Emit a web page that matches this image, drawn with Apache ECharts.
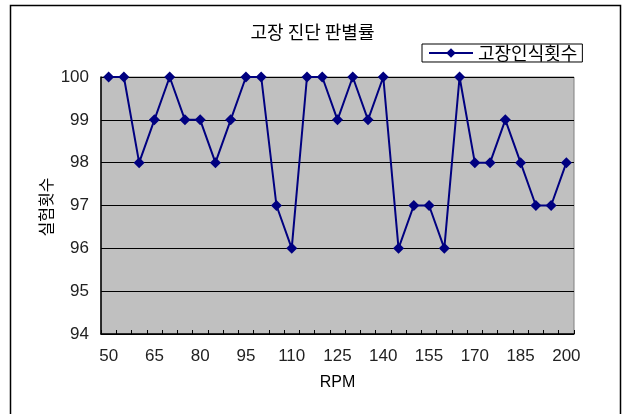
<!DOCTYPE html>
<html>
<head>
<meta charset="utf-8">
<script src="https://cdn.jsdelivr.net/npm/echarts@6/dist/echarts.min.js"></script>
<style>
  html, body { margin: 0; padding: 0; background: #fff; }
  #chart { width: 625px; height: 414px; }
</style>
</head>
<body>
<div id="chart"></div>
<script>
// RPM categories (every 5 rpm from 50 to 200)
const rpm = [50, 55, 60, 65, 70, 75, 80, 85, 90, 95, 100, 105, 110, 115, 120, 125,
             130, 135, 140, 145, 150, 155, 160, 165, 170, 175, 180, 185, 190, 195, 200];
// Number of recognised faults per RPM
const recognised = [100, 100, 98, 99, 100, 99, 99, 98, 99, 100, 100, 97, 96, 100, 100, 99,
                    100, 99, 100, 96, 97, 97, 96, 100, 98, 98, 99, 98, 97, 97, 98];
const seriesName = '고장인식횟수';
const titleText = '고장 진단 판별률';
const yName = '실험횟수';
const xName = 'RPM';

const FONT = '"Liberation Sans", "Noto Sans CJK KR", sans-serif';
const KFONT = '"Noto Sans CJK KR", "Liberation Sans", sans-serif';

const chart = echarts.init(document.getElementById('chart'), null, { renderer: 'canvas' });
chart.setOption({
  animation: false,
  backgroundColor: '#ffffff',
  title: {
    text: titleText,
    left: 'center',
    top: 18,
    textStyle: { fontFamily: KFONT, fontSize: 18, fontWeight: 'normal', color: '#000' }
  },
  legend: {
    data: [seriesName],
    left: 422,
    top: 44,
    padding: [0, 5, 0, 6],
    borderColor: '#000',
    borderWidth: 1,
    itemWidth: 44,
    itemHeight: 12,
    itemGap: 4,
    textStyle: { fontFamily: KFONT, fontSize: 18, color: '#000' }
  },
  graphic: [{
    type: 'rect',
    shape: { x: 10.5, y: 5.5, width: 610, height: 430 },
    style: { fill: 'none', stroke: '#000', lineWidth: 1.5 },
    silent: true,
    z: -1
  }, {
    type: 'text',
    left: 38,
    top: 'middle',
    rotation: Math.PI / 2,
    style: { text: yName, fontFamily: KFONT, fontSize: 16, fill: '#000' }
  }],
  grid: {
    left: 101, top: 77, right: 51, bottom: 80,
    show: true,
    backgroundColor: '#c0c0c0',
    borderColor: '#808080',
    borderWidth: 1
  },
  xAxis: {
    type: 'category',
    data: rpm,
    boundaryGap: true,
    name: xName,
    nameLocation: 'middle',
    nameGap: 41,
    nameTextStyle: { fontFamily: FONT, fontSize: 16, color: '#000' },
    axisLine: { lineStyle: { color: '#000', width: 1.5 } },
    axisTick: { show: true, inside: true, length: 4, interval: 0, lineStyle: { color: '#000' } },
    axisLabel: { interval: 2, margin: 14, fontFamily: FONT, fontSize: 17, color: '#222' },
    splitLine: { show: false }
  },
  yAxis: {
    type: 'value',
    min: 94,
    max: 100,
    interval: 1,
    axisLine: { show: true, lineStyle: { color: '#000', width: 1.5 } },
    axisTick: { show: false },
    axisLabel: { margin: 12, fontFamily: FONT, fontSize: 17, color: '#222' },
    splitLine: { show: true, lineStyle: { color: '#000', width: 1 } }
  },
  series: [{
    name: seriesName,
    type: 'line',
    data: recognised,
    symbol: 'diamond',
    symbolSize: 11,
    showAllSymbol: true,
    lineStyle: { color: '#000080', width: 2 },
    itemStyle: { color: '#000080' }
  }]
});
</script>
</body>
</html>
